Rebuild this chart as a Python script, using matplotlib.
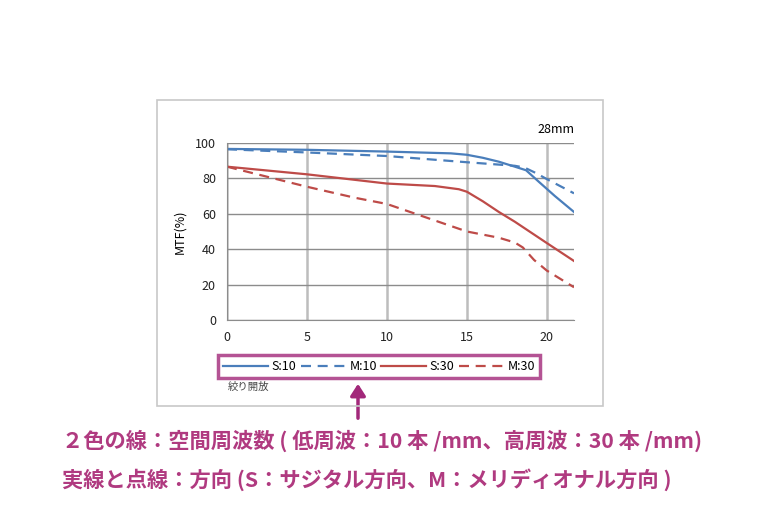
import matplotlib
matplotlib.use('Agg')
import matplotlib.pyplot as plt
from matplotlib.patches import Rectangle

plt.rcParams['font.family'] = ['Noto Sans CJK JP', 'DejaVu Sans']

# 像高 (mm) と MTF (%)
s10_x = [0, 5, 10, 14, 15, 16, 17, 18, 18.7, 19.5, 20.5, 21.7]
s10_y = [96.5, 96, 95, 94, 93.2, 91.5, 89.3, 86.5, 84.5, 78, 70, 61]
m10_x = [0, 5, 10, 15, 18, 18.6, 19.3, 20, 21.7]
m10_y = [96.3, 94.5, 92.5, 89, 87, 86, 83, 79.5, 71.5]
s30_x = [0, 5, 10, 13, 14.5, 15, 16, 17, 18, 20, 21.7]
s30_y = [86.5, 82.2, 77, 75.6, 73.8, 72.4, 67, 61, 55.5, 43.5, 33.4]
m30_x = [0, 5, 8, 10, 12, 15, 17, 18, 18.5, 19.2, 20, 21.7]
m30_y = [86.5, 75.2, 69, 65.5, 59.3, 50, 46.5, 43.8, 41, 34, 28, 18.6]
xticks = [0, 5, 10, 15, 20]
yticks = [0, 20, 40, 60, 80, 100]

W, H = 760, 505
fig = plt.figure(figsize=(7.6, 5.05), dpi=100)

# 外枠
fig.patches.append(Rectangle((157 / W, 1 - 406 / H), (603 - 157) / W, (406 - 100) / H,
                             transform=fig.transFigure, fill=False,
                             edgecolor='#c8c8c8', linewidth=1.2))

ax = fig.add_axes([227 / W, 1 - 320.3 / H, (574 - 227) / W, (320.3 - 142.7) / H])
blue = '#4a7ebb'
red = '#be4b48'
ax.plot(s10_x, s10_y, color=blue, lw=1.6, label='S:10')
ax.plot(m10_x, m10_y, color=blue, lw=1.6, ls=(0, (4.5, 3)), label='M:10')
ax.plot(s30_x, s30_y, color=red, lw=1.6, label='S:30')
ax.plot(m30_x, m30_y, color=red, lw=1.6, ls=(0, (4.5, 3)), label='M:30')

ax.set_xlim(0, 21.7)
ax.set_ylim(0, 100)
ax.set_xticks(xticks)
ax.set_yticks(yticks)
ax.tick_params(length=0, labelsize=9, pad=8, labelcolor='#222222')
ax.xaxis.grid(True, color='#bdbdbd', lw=1.8)
ax.yaxis.grid(True, color='#8c8c8c', lw=1.0)
ax.set_axisbelow(True)
for k in ['top', 'right']:
    ax.spines[k].set_visible(False)
ax.spines['left'].set_color('#8c8c8c')
ax.spines['bottom'].set_color('#8c8c8c')
ax.set_ylabel('MTF(%)', fontsize=9, labelpad=6)
ax.text(1.0, 1.04, '28mm', transform=ax.transAxes, ha='right', va='bottom', fontsize=9)

leg = fig.legend(loc='lower left', ncol=4, mode='expand',
                 bbox_to_anchor=(218 / W, 1 - 378 / H, (540 - 218) / W, 28 / H),
                 fontsize=9, handlelength=3.6, handletextpad=0.3, columnspacing=1.0,
                 fancybox=False, borderaxespad=0)
leg.get_frame().set_edgecolor('#a2287a')
leg.get_frame().set_linewidth(2.5)

fig.text(228 / W, 1 - 387 / H, '絞り開放', fontsize=7.5, color='#444444', va='center')

fig.add_artist(matplotlib.patches.FancyArrowPatch(
    (358 / W, 1 - 421 / H), (358 / W, 1 - 381 / H), transform=fig.transFigure,
    arrowstyle='-|>,head_length=7,head_width=4.5', color='#a2287a', lw=2.5))

tc = '#b03a80'
fig.text(62 / W, 1 - 441 / H, '２色の線：空間周波数 ( 低周波：10 本 /mm、高周波：30 本 /mm)',
         fontsize=15.3, color=tc, va='center', fontweight='bold')
fig.text(62 / W, 1 - 480 / H, '実線と点線：方向 (S：サジタル方向、M：メリディオナル方向 )',
         fontsize=15.3, color=tc, va='center', fontweight='bold')

fig.savefig('out.png', dpi=100)
